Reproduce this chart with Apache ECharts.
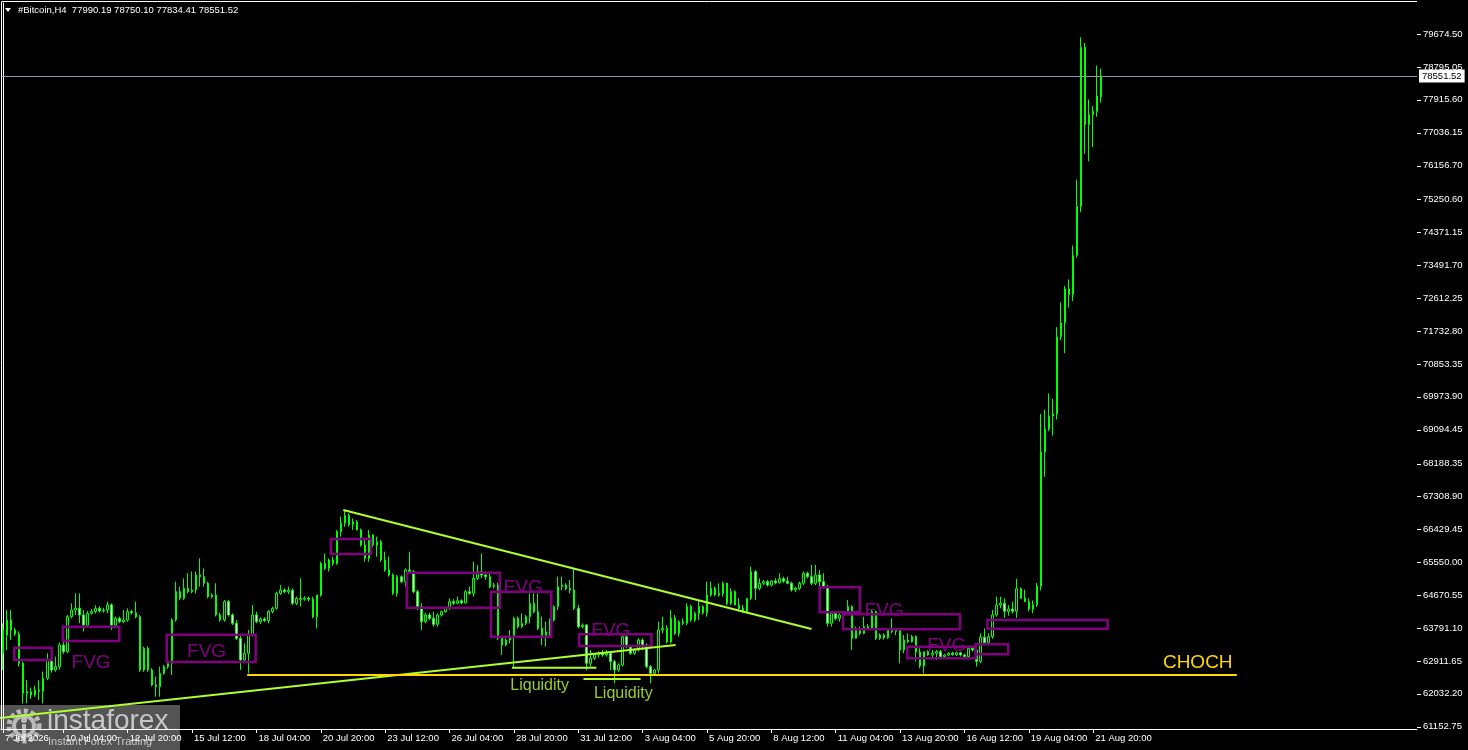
<!DOCTYPE html>
<html><head><meta charset="utf-8">
<style>html,body{margin:0;padding:0;background:#000;}#c{width:1468px;height:750px;}</style>
<script src="https://cdn.jsdelivr.net/npm/echarts@6.0.0/dist/echarts.min.js"></script>
</head><body><div id="c"></div>
<script>
const symbolName = '#Bitcoin,H4';
const startTime = Date.UTC(2026, 6, 7, 16, 0);
const slotCount = 352;

const opens = [
63115,63600,64006,63739,63630,62847,62045,62090,62000,62134,
62100,62446,62936,62669,62758,63338,63160,64095,64273,64320,
64140,63870,64184,64230,64318,64250,64270,64410,63870,64050,
63960,64006,64230,64200,64095,62669,63250,62669,62270,62223,
62580,62758,62847,64006,64763,64585,64852,64763,64808,65210,
65165,64986,64630,64675,64140,64006,64497,64140,63917,63515,
62936,63115,63605,64140,63960,64030,63990,64230,64318,64719,
64808,64760,64800,64452,64585,64560,64590,64560,64095,64675,
65521,65387,65610,65520,66368,66591,66800,66560,66630,66413,
66011,65655,66279,66011,66100,65610,65343,65210,64719,65165,
65031,65343,65300,64763,64362,63961,64140,64050,63890,64140,
64228,64318,64497,64452,64520,64460,64763,64720,65120,65298,
65210,65165,64897,64940,63516,63338,63471,63560,64050,63828,
63917,64095,64452,64228,63783,63560,63694,64006,64362,64897,
64940,64850,64808,64318,63828,63870,62847,62980,63070,63115,
63070,63115,62892,62669,62800,63560,63293,63115,63204,63471,
63338,62758,62580,62669,63739,63783,63420,64050,63650,63960,
63917,64363,64006,64185,64363,64200,64675,64853,64675,64719,
64987,64452,64764,64407,64318,64229,64586,65298,64853,64987,
65030,64940,65050,65000,65110,65040,64987,64808,64853,64987,
65254,65165,64987,65210,65030,64898,63917,64185,64050,64140,
64185,64363,63516,63783,63650,63828,63783,64229,63516,63605,
63530,63739,63700,63739,63204,63471,63427,63561,63150,62780,
63160,63070,63115,63160,63026,63070,63115,63080,63130,63070,
63026,63249,63204,62900,63542,63400,63561,64140,64407,64452,
64238,64300,64240,64842,64586,64494,64296,64412,64911,68496,
69110,69458,69516,71581,71952,72857,72706,73750,75061,79318,
77254,77520,77602,77990.19];

const highs = [
63917,64273,64273,63800,63700,62900,62402,62200,62250,62402,
62625,63115,63000,63025,63400,63420,64140,64452,64719,64719,
64273,64250,64300,64400,64380,64330,64500,64452,64100,64100,
64273,64318,64280,64497,64140,63293,63300,62720,62491,62758,
62800,62900,64050,65031,64897,65120,65254,65300,65300,65655,
65387,65031,64720,64986,64200,64540,64541,64184,64006,63600,
63382,63739,64407,64230,64080,64080,64273,64360,64760,64942,
64850,64900,64850,64630,65120,64640,64630,64630,64675,65565,
65789,65650,65700,66413,66769,66950,66850,66720,66680,66450,
66145,66413,66300,66234,66145,65833,65699,65254,65210,65200,
65387,65833,65343,64808,64452,64200,64200,64228,64184,64260,
64360,64585,64560,64630,64560,64808,64897,65565,65476,65789,
65300,65300,65000,65000,63560,63516,63739,64095,64100,64184,
64140,64719,64719,64719,64095,63961,64050,64400,65165,65165,
64990,65075,65388,64408,63917,63900,63204,63115,63160,63200,
63204,63160,62936,62850,63649,63600,63338,63250,63516,63516,
63382,62803,62700,63961,64095,63870,64274,64140,64000,64050,
64452,64420,64230,64541,64400,65031,65031,64900,64987,65031,
65000,64853,64800,64586,64407,64586,65432,65343,65120,65076,
65076,65076,65120,65254,65165,65165,65030,64900,65031,65300,
65300,65476,65476,65343,65254,64940,64229,64229,64200,64229,
64541,64400,63828,63828,64095,63900,64274,64260,63650,63650,
63783,64050,63783,63780,63605,63650,63605,63600,63250,63160,
63200,63204,63204,63204,63100,63140,63160,63160,63160,63110,
63290,63300,63250,63650,63780,63650,64274,64630,64630,64586,
64400,64500,65108,64876,64818,64586,64528,64992,69516,69632,
70062,69922,71836,72498,72938,73112,74017,75780,79585,79434,
77926,77752,78831,78750.10];

const lows = [
62669,63204,63471,63580,62758,61778,61778,61900,61950,61867,
61778,62400,62600,62620,62680,63100,63115,64050,64140,63917,
63700,63800,64150,64180,64200,64200,64184,63739,63830,63920,
63917,63960,64150,64050,62620,62620,62620,62230,61956,61956,
62540,62700,62535,63960,64540,64541,64719,64719,64719,64897,
64897,64585,64580,64100,63960,63960,64095,63870,63471,62669,
62847,62580,63560,63917,63900,63950,63917,64180,64280,64675,
64720,64700,64407,64407,64362,64520,64500,64050,63783,64630,
65343,65300,65450,65480,66234,66500,66500,66413,66400,65967,
65565,65565,65950,65699,65560,65298,65165,64675,64630,64986,
64897,65254,64719,64273,63739,63917,64000,63828,63828,64100,
64200,64273,64400,64430,64420,64450,64680,64630,65075,65120,
65075,64852,64850,63471,63070,63300,63382,62714,63780,63783,
63870,63917,64184,63739,63338,63293,63560,63961,64273,64808,
64800,64719,64273,63783,63780,62669,62758,62936,63000,63025,
63025,62669,62312,62620,62760,63250,63070,63070,63160,63204,
62714,62312,62530,62580,63650,63380,63380,63600,63560,63870,
63870,63960,63950,64006,64150,64095,64630,64650,64630,64630,
64400,64407,64400,64229,64185,64185,64541,64541,64800,64940,
64900,64900,64960,64980,65000,64960,64764,64750,64808,64940,
65120,64940,64940,64898,64850,63828,63828,64000,63960,64000,
64140,63204,63500,63600,63620,63740,63739,63471,63471,63480,
63500,63650,63600,62847,63115,63382,63400,62900,62714,62580,
63050,62980,62937,62990,62990,63030,63050,63040,63030,62990,
62980,63160,62758,62850,63330,63330,63500,64095,64320,64060,
64120,64180,64060,64586,64494,64238,64180,64354,64795,67834,
69052,68936,69366,71488,71140,72358,72532,73692,74910,76476,
76268,76650,77462,77834.41];

const closes = [
63739,64006,63739,63630,62847,62045,62090,62000,62134,62100,
62446,62936,62669,62758,63338,63160,64095,64273,64320,64140,
63870,64184,64230,64318,64250,64270,64410,63870,64050,63960,
64006,64230,64200,64095,62669,63250,62669,62270,62223,62580,
62758,62847,64006,64763,64585,64852,64763,64808,65210,65165,
64986,64630,64675,64140,64006,64497,64140,63917,63515,62936,
63115,63605,64140,63960,64030,63990,64230,64318,64719,64808,
64760,64800,64452,64585,64560,64590,64560,64095,64675,65521,
65387,65610,65520,66368,66591,66800,66560,66630,66413,66011,
65655,66279,66011,66100,65610,65343,65210,64719,65165,65031,
65343,65300,64763,64362,63961,64140,64050,63890,64140,64228,
64318,64497,64452,64520,64460,64763,64720,65120,65298,65210,
65165,64897,64940,63516,63338,63471,63560,64050,63828,63917,
64095,64452,64228,63783,63560,63694,64006,64362,64897,64940,
64850,64808,64318,63828,63870,62847,62980,63070,63115,63070,
63115,62892,62669,62800,63560,63293,63115,63204,63471,63338,
62758,62580,62669,63739,63783,63420,64050,63650,63960,63917,
64363,64006,64185,64363,64200,64675,64853,64675,64719,64987,
64452,64764,64407,64318,64229,64586,65298,64853,64987,65030,
64940,65050,65000,65110,65040,64987,64808,64853,64987,65254,
65165,64987,65210,65030,64898,63917,64185,64050,64140,64185,
64363,63516,63783,63650,63828,63783,64229,63516,63605,63530,
63739,63700,63739,63204,63471,63427,63561,63150,62780,63160,
63070,63115,63160,63026,63070,63115,63080,63130,63070,63026,
63249,63204,62900,63542,63400,63561,64140,64407,64452,64238,
64300,64240,64842,64586,64494,64296,64412,64911,68496,69110,
69458,69516,71581,71952,72857,72706,73750,75061,79318,77254,
77520,77602,78019,78551.52];

const yTickValues = [79674.50,78795.05,77915.60,77036.15,76156.70,75250.60,74371.15,73491.70,72612.25,71732.80,70853.35,69973.90,69094.45,68188.35,67308.90,66429.45,65550.00,64670.55,63791.10,62911.65,62032.20,61152.75];

// annotations in [bar index, price] coordinates
const fvgBoxes = [
  [2.8,63265,12.1,62936],[14.9,63827,28.9,63444],[40.7,63613,62.8,62883],
  [81.5,66172,91.5,65770],[100.4,65271,123.5,64335],[121.3,64763,136.3,63559],
  [143.2,63624,161.2,63311],[203.0,64880,213.0,64212],[208.8,64158,237.9,63757],
  [224.8,63292,241.8,62982],[241.8,63356,249.9,63089],[244.7,64006,274.6,63773]
];
const fvgLabels = [[21.9,62869],[50.6,63158],[129.3,64875],[151.1,63725],[219.0,64247],[234.6,63324]];
const trendLines = [
  [[84.6,66947],[201.0,63765]],
  [[-0.75,61385],[167.2,63337]]
];
const liquidityLines = [
  [[126.5,62730],[147.5,62730]],
  [[144.3,62428],[158.5,62428]]
];
const liquidityLabels = [[133.4,62241],[154.2,62027]];
const chochLine = [[60.7,62535],[306.7,62535]];
const chochLabel = [[297.0,62856]];

const MONTHS = ['Jan','Feb','Mar','Apr','May','Jun','Jul','Aug','Sep','Oct','Nov','Dec'];
const categories = [];
for (let i = 0; i < slotCount; i++) {
  const d = new Date(startTime + i * 4 * 3600 * 1000);
  const dd = d.getUTCDate(), mo = MONTHS[d.getUTCMonth()];
  const hh = String(d.getUTCHours()).padStart(2, '0'), mi = String(d.getUTCMinutes()).padStart(2, '0');
  categories.push(i === 0 ? `${dd} ${mo} ${d.getUTCFullYear()}` : `${dd} ${mo} ${hh}:${mi}`);
}
const lastIdx = opens.length - 1;
const showTick = (i) => i <= lastIdx && (i === 0 || i % 16 === 15);
const candleData = opens.map((o, i) => [o, closes[i], lows[i], highs[i]]);
const header = `${symbolName}  ${opens[lastIdx].toFixed(2)} ${highs[lastIdx].toFixed(2)} ${lows[lastIdx].toFixed(2)} ${closes[lastIdx].toFixed(2)}`;

const FONT = '"Liberation Sans", Arial, sans-serif';
const LIME = '#ADFF2F';

function textSeries(data, text, color, size) {
  return {
    type: 'custom', xAxisIndex: 1, yAxisIndex: 0, data: data, encode: {x: 0, y: 1}, silent: true, z: 8,
    renderItem: (p, api) => {
      const c = api.coord([api.value(0), api.value(1)]);
      return {type: 'text', x: c[0], y: c[1], style: {text: text, fill: color, fontSize: size, fontFamily: FONT, align: 'center', verticalAlign: 'middle'}};
    }
  };
}
function lineSeries(pts, color, width) {
  return {type: 'line', xAxisIndex: 1, yAxisIndex: 0, data: pts, symbol: 'none', silent: true, z: 6,
    lineStyle: {color: color, width: width}, emphasis: {disabled: true}};
}

const chart = echarts.init(document.getElementById('c'), null, {renderer: 'canvas'});
const series = [
  {
    type: 'candlestick', xAxisIndex: 0, yAxisIndex: 0, data: candleData, barWidth: 2, z: 3,
    itemStyle: {color: '#000000', color0: '#ffffff', borderColor: '#00ff00', borderColor0: '#00ff00', borderWidth: 1},
    markLine: {
      silent: true, symbol: ['none', 'none'], animation: false,
      lineStyle: {color: '#8a9aaa', width: 1, type: 'solid'},
      label: {show: true, position: 'end', formatter: closes[lastIdx].toFixed(2), color: '#000', backgroundColor: '#fff',
        padding: [2, 3, 1, 3], fontSize: 9.5, fontFamily: FONT, distance: 2},
      data: [{yAxis: closes[lastIdx]}]
    }
  },
  {
    type: 'custom', xAxisIndex: 1, yAxisIndex: 0, data: fvgBoxes, encode: {x: [0, 2], y: [1, 3]}, silent: true, z: 5,
    renderItem: (p, api) => {
      const a = api.coord([api.value(0), api.value(1)]);
      const b = api.coord([api.value(2), api.value(3)]);
      return {type: 'rect', shape: {x: a[0], y: a[1], width: b[0] - a[0], height: b[1] - a[1]},
        style: {fill: 'rgba(0,0,0,0)', stroke: '#800080', lineWidth: 2.5}};
    }
  },
  // price-scale tick marks on the right axis
  {
    type: 'custom', xAxisIndex: 1, yAxisIndex: 0, data: yTickValues.map(v => [slotCount - 0.5, v]), encode: {x: 0, y: 1}, silent: true, z: 9,
    renderItem: (p, api) => {
      const c = api.coord([api.value(0), api.value(1)]);
      const y = Math.round(c[1]) + 0.5;
      return {type: 'line', shape: {x1: c[0], y1: y, x2: c[0] + 4, y2: y}, style: {stroke: '#ffffff', lineWidth: 1}};
    }
  },
  ...trendLines.map(l => lineSeries(l, LIME, 2)),
  ...liquidityLines.map(l => lineSeries(l, LIME, 2)),
  lineSeries(chochLine, '#FFD700', 2),
  textSeries(fvgLabels, 'FVG', '#800080', 19),
  textSeries(liquidityLabels, 'Liquidity', '#9ACD32', 16),
  textSeries(chochLabel, 'CHOCH', '#FFD700', 19)
];

chart.setOption({
  backgroundColor: '#000000',
  animation: false,
  textStyle: {fontFamily: FONT},
  grid: {left: 1, right: 51, top: 3, bottom: 21, containLabel: false},
  xAxis: [
    {
      type: 'category', data: categories, boundaryGap: true,
      axisLine: {show: true, lineStyle: {color: '#ffffff', width: 1}},
      axisTick: {show: true, interval: (i) => showTick(i), alignWithLabel: true, length: 4, lineStyle: {color: '#ffffff'}},
      axisLabel: {interval: (i) => showTick(i), color: '#ffffff', fontSize: 9.5, fontFamily: FONT, align: 'left', margin: 4, padding: [0, 0, 0, 2], hideOverlap: false},
      splitLine: {show: false}
    },
    {type: 'value', min: -0.5, max: slotCount - 0.5, show: false, gridIndex: 0}
  ],
  yAxis: [{
    type: 'value', position: 'right', min: 61091.2, max: 80503.4, scale: true,
    splitLine: {show: false},
    axisLine: {show: true, lineStyle: {color: '#ffffff', width: 1}},
    axisTick: {show: false},
    axisLabel: {customValues: yTickValues, formatter: (v) => Number(v).toFixed(2), color: '#ffffff', fontSize: 9.5, fontFamily: FONT, margin: 6}
  }],
  series: series,
  graphic: [
    {type: 'line', z: 50, shape: {x1: 1.5, y1: 1.5, x2: 1417, y2: 1.5}, style: {stroke: '#ffffff', lineWidth: 1}},
    {type: 'line', z: 50, shape: {x1: 1.5, y1: 1.5, x2: 1.5, y2: 729}, style: {stroke: '#ffffff', lineWidth: 1}},
    {type: 'polygon', z: 50, shape: {points: [[5, 8], [11, 8], [8, 12]]}, style: {fill: '#ffffff'}},
    {type: 'text', z: 50, x: 18, y: 5, style: {text: header, fill: '#ffffff', fontSize: 9.5, fontFamily: FONT, align: 'left', verticalAlign: 'top'}},
    {type: 'group', z: 100, x: 0, y: 705, children: [
      {type: 'rect', shape: {x: 0, y: 0, width: 180, height: 45}, style: {fill: 'rgba(100,100,100,0.84)'}},
      {type: 'circle', shape: {cx: 24, cy: 21, r: 15}, style: {fill: 'rgba(0,0,0,0)', stroke: 'rgba(205,205,205,0.85)', lineWidth: 5, lineDash: [4, 3]}},
      {type: 'circle', shape: {cx: 24, cy: 21, r: 10}, style: {fill: 'rgba(0,0,0,0)', stroke: 'rgba(205,205,205,0.85)', lineWidth: 4}},
      {type: 'circle', shape: {cx: 24, cy: 15, r: 3}, style: {fill: 'rgba(205,205,205,0.85)'}},
      {type: 'rect', shape: {x: 22, y: 19, width: 4, height: 16}, style: {fill: 'rgba(205,205,205,0.85)'}},
      {type: 'text', x: 47, y: 2, style: {text: 'instaforex', fill: 'rgba(212,212,212,0.9)', fontSize: 28, fontFamily: FONT, align: 'left', verticalAlign: 'top'}},
      {type: 'text', x: 48, y: 31, style: {text: 'Instant Forex Trading', fill: 'rgba(212,212,212,0.9)', fontSize: 11, fontFamily: FONT, align: 'left', verticalAlign: 'top'}}
    ]}
  ]
});
</script>
</body></html>
